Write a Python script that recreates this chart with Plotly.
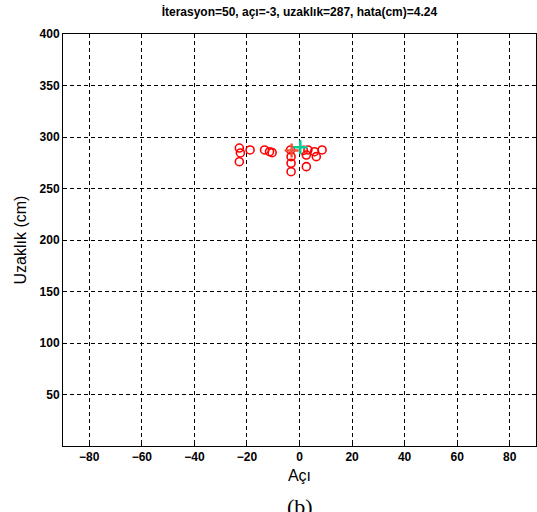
import plotly.graph_objects as go

# Candidate (particle) positions: angle (deg), distance (cm)
aci = [-22.9, -22.5, -22.9, -18.8, -13.3, -11.4, -10.4, -3.4, -3.2, -3.2, -3.2,
       1.5, 3.2, 2.6, 2.6, 5.7, 6.4, 8.6]
uzaklik = [289.3, 284.5, 276.0, 287.4, 287.4, 285.7, 284.8, 287.4, 280.9, 274.5, 266.3,
           287.0, 287.4, 282.5, 271.2, 285.7, 280.9, 287.4]

# Estimate (blue) and true target (cyan)
tahmin_aci = [-3]
tahmin_uzaklik = [287]
hedef_aci = [0.3]
hedef_uzaklik = [290]

x_ticks = [-80, -60, -40, -20, 0, 20, 40, 60, 80]
y_ticks = [50, 100, 150, 200, 250, 300, 350, 400]

title_text = "İterasyon=50, açı=-3, uzaklık=287, hata(cm)=4.24"

fig = go.Figure()
fig.add_trace(go.Scatter(
    x=aci, y=uzaklik, mode="markers",
    marker=dict(symbol="circle-open", size=8, color="red", line=dict(width=1.6, color="red")),
    showlegend=False))
fig.add_trace(go.Scatter(
    x=tahmin_aci, y=tahmin_uzaklik, mode="markers",
    marker=dict(symbol="cross-thin-open", size=10, line=dict(width=2.5, color="blue")),
    showlegend=False))
fig.add_trace(go.Scatter(
    x=hedef_aci, y=hedef_uzaklik, mode="markers",
    marker=dict(symbol="cross-thin-open", size=10, line=dict(width=2.5, color="cyan")),
    showlegend=False))

font_main = "Liberation Sans, Arial, sans-serif"

fig.update_layout(
    width=537, height=512,
    margin=dict(l=63, r=1, t=34, b=66, autoexpand=False),
    paper_bgcolor="white", plot_bgcolor="white",
    font=dict(family=font_main, color="black", size=12),
    title=dict(text=title_text, x=0.5575, xanchor="center", y=0.977, yanchor="middle",
               font=dict(family=font_main, size=12, color="black", weight="bold")),
    xaxis=dict(range=[-90, 90], tickvals=x_ticks, ticks="inside", ticklen=4,
               tickcolor="black", showline=True, linecolor="black", linewidth=1, mirror="ticks",
               showgrid=True, gridcolor="black", griddash="4px,3px", gridwidth=1,
               zeroline=False, automargin=False,
               tickfont=dict(size=12, family=font_main, weight="bold"),
               title=dict(text="Açı", font=dict(size=16, family=font_main), standoff=6)),
    yaxis=dict(range=[0, 400], tickvals=y_ticks, ticks="inside", ticklen=4,
               tickcolor="black", showline=True, linecolor="black", linewidth=1, mirror="ticks",
               showgrid=True, gridcolor="black", griddash="4px,3px", gridwidth=1,
               zeroline=False, automargin=False,
               tickfont=dict(size=12, family=font_main, weight="bold"),
               title=dict(text="Uzaklık (cm)", font=dict(size=16, family=font_main), standoff=8)),
)

fig.add_annotation(text="(b)", xref="paper", yref="paper", x=0.5, y=-0.111,
                   xanchor="center", yanchor="top", showarrow=False,
                   font=dict(family="Liberation Serif, Times New Roman, serif", size=22, color="black"))

fig.write_html("out.html", config={"displayModeBar": False},
               post_script="document.body.style.margin='0';document.body.style.overflow='hidden';")
